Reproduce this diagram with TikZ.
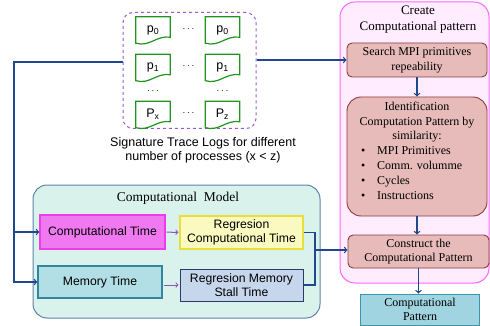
\documentclass[tikz,border=0pt]{standalone}
\usepackage{fontspec}
\setmainfont{Liberation Serif}
\setsansfont{Liberation Sans}
\usetikzlibrary{positioning, arrows, calc}

\definecolor{linkblue}{RGB}{31,73,140}
\definecolor{arrowpurple}{RGB}{150,80,190}
\definecolor{logpurple}{RGB}{150,90,210}
\definecolor{docgreen}{RGB}{30,150,30}
\definecolor{modelfill}{RGB}{218,242,236}
\definecolor{modelline}{RGB}{95,130,170}
\definecolor{ctfill}{RGB}{240,120,240}
\definecolor{ctline}{RGB}{235,60,235}
\definecolor{rctfill}{RGB}{250,250,192}
\definecolor{rctline}{RGB}{232,222,60}
\definecolor{mtfill}{RGB}{178,222,230}
\definecolor{mtline}{RGB}{49,133,156}
\definecolor{rmtfill}{RGB}{198,214,236}
\definecolor{rmtline}{RGB}{40,60,100}
\definecolor{createfill}{RGB}{255,236,255}
\definecolor{createline}{RGB}{255,100,255}
\definecolor{patfill}{RGB}{230,187,186}
\definecolor{patline}{RGB}{140,60,60}
\definecolor{outfill}{RGB}{160,212,224}
\definecolor{outline}{RGB}{60,150,170}

\tikzset{
  tracelog/.style={minimum width=34, minimum height=26, inner sep=0, font=\sffamily\fontsize{12.5}{14}\selectfont},
  timebox/.style={draw, rectangle, line width=1.2, inner sep=0, align=center, font=\sffamily\fontsize{12.2}{14}\selectfont},
  patbox/.style={draw=patline, fill=patfill, rectangle, rounded corners=5, line width=0.9, inner sep=0, align=center, font=\fontsize{12}{14.5}\selectfont},
  link/.style={->, linkblue, line width=1.3},
}

\begin{document}
\begin{tikzpicture}[x=1pt, y=-1pt]
\useasboundingbox (0,0) rectangle (490,326);

% trace logs
\node (logs) at (189.5,70.5) [draw=logpurple, dashed, line width=1, rounded corners=10, minimum width=133, minimum height=116] {};
\node (p0a) at (153,30) [tracelog] {p\textsubscript{0}};
\node (p0b) at (222.5,30) [tracelog] {p\textsubscript{0}};
\node (p1a) at (153,67.5) [tracelog] {p\textsubscript{1}};
\node (p1b) at (222.5,67.5) [tracelog] {p\textsubscript{1}};
\node (pxa) at (153,114.5) [tracelog] {P\textsubscript{x}};
\node (pzb) at (222.5,114.5) [tracelog] {P\textsubscript{z}};
\foreach \n in {p0a,p0b,p1a,p1b,pxa,pzb}
  \draw [docgreen, line width=1.2] (\n.north west) -- (\n.south west) .. controls ($(\n.south west)+(14,4)$) and ($(\n.south east)+(-14,-8)$) .. ($(\n.south east)+(0,-6)$) -- (\n.north east) -- cycle;
\node (d0) at (188.5,29) {$\cdots$};
\node (d1) at (188.5,66) {$\cdots$};
\node (dx) at (188.5,113) {$\cdots$};
\node (va) at (153,91) {$\cdots$};
\node (vb) at (222.5,91) {$\cdots$};
\node (cap) at (203,150) [align=center, font=\sffamily\fontsize{12.5}{14}\selectfont] {Signature Trace Logs for different\\number of processes (x < z)};

% computational model
\node (model) at (176.5,251.5) [draw=modelline, fill=modelfill, line width=1, rounded corners=14, minimum width=287, minimum height=133] {};
\node (mtitle) at (178,198) [font=\fontsize{13.5}{15}\selectfont] {Computational\ \ Model};
\node (ct) at (102.5,232) [timebox, draw=ctline, fill=ctfill, minimum width=125, minimum height=34] {Computational Time};
\node (rct) at (241.5,232.5) [timebox, draw=rctline, fill=rctfill, minimum width=123, minimum height=33] {Regresion\\Computational Time};
\node (mt) at (100,282) [timebox, draw=mtline, fill=mtfill, minimum width=124, minimum height=32] {Memory Time};
\node (rmt) at (241.5,285) [timebox, draw=rmtline, fill=rmtfill, line width=1, minimum width=123, minimum height=32] {Regresion Memory\\Stall Time};

% computational pattern
\node (create) at (414.5,142.5) [draw=createline, fill=createfill, line width=1, rounded corners=15, minimum width=149, minimum height=281] {};
\node (ctitle) at (418,20) [align=center, font=\fontsize{13}{16}\selectfont] {Create\\Computational pattern};
\node (search) at (417,60) [patbox, minimum width=140, minimum height=34] {Search MPI primitives\\repeability};
\node (ident) at (417,156.5) [patbox, rounded corners=14, minimum width=140, minimum height=119] {};
\node (identtext) at (417,150.5) [align=center, inner sep=0, font=\fontsize{12}{14.8}\selectfont] {Identification\\Computation Pattern by\\similarity:\\
  \makebox[112pt][l]{\textbullet\hspace{12pt}MPI Primitives}\\
  \makebox[112pt][l]{\textbullet\hspace{12pt}Comm. volumme}\\
  \makebox[112pt][l]{\textbullet\hspace{12pt}Cycles}\\
  \makebox[112pt][l]{\textbullet\hspace{12pt}Instructions}};
\node (construct) at (418.5,251.5) [patbox, minimum width=141, minimum height=33] {Construct the\\Computational Pattern};
\node (result) at (420,309.5) [patbox, draw=outline, fill=outfill, rounded corners=0, minimum width=119, minimum height=31] {Computational\\Pattern};

% connectors
\coordinate (lbus) at (14,62);
\coordinate (rbus) at (315,250);
\draw [link] (logs.west |- lbus) -- (lbus) |- (mt.west);
\draw [link] (lbus) |- (ct.west);
\draw [link] (logs.east |- search.west) -- (search.west);
\draw [->, arrowpurple, line width=1, shorten <=1, shorten >=1] (ct) -- (rct);
\draw [->, arrowpurple, line width=1, shorten <=1, shorten >=1] (mt.east |- rmt.west) -- (rmt.west);
\draw [linkblue, line width=1.3] (rct.east) -| (rbus) |- (rmt.east);
\draw [link] (rbus) -- (rbus -| construct.west);
\draw [link] (search.south) -- (ident.north);
\draw [link] (ident.south) -- (ident.south |- construct.north);
\draw [link] (construct.south) -- (construct.south |- result.north);
\end{tikzpicture}
\end{document}
